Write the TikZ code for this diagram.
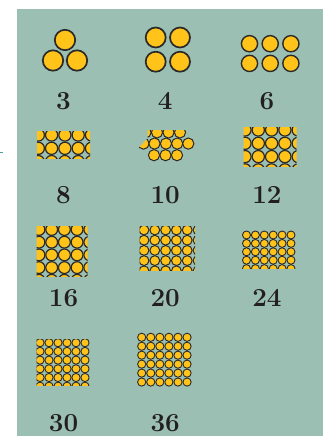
\documentclass[tikz,border=0pt]{standalone}
\usepackage{xcolor}
\usepackage{tikz}
\usetikzlibrary{positioning}

\definecolor{panelgreen}{HTML}{9BBFB2}
\definecolor{coinyellow}{HTML}{FFC31A}
\definecolor{coinedge}{HTML}{2B2A28}
\definecolor{numgray}{HTML}{231F20}
\definecolor{tickteal}{HTML}{4E9A9A}

\begin{document}
\begin{tikzpicture}[x=1pt, y=-1pt, node distance=101.7pt,
        panel/.style={fill=panelgreen},
        coin/.style={draw=coinedge, fill=coinyellow},
        num/.style={text=numgray, inner sep=0pt, font=\fontsize{26}{26}\selectfont\bfseries},
        tick/.style={draw=tickteal, line width=0.8pt}
    ]
        \useasboundingbox (0,0) rectangle (323,436);
        \fill[panel] (17,9) rectangle (323,436);
        \draw[tick] (0,152.7) -- (2.5,152.7);

        % row 1
        \draw[coin, line width=1.7pt] (65,40) circle[radius=10.2];
        \draw[coin, line width=1.7pt] (53,60.5) circle[radius=10.2];
        \draw[coin, line width=1.7pt] (77,60.5) circle[radius=10.2];
        \foreach \x in {155.7,180}
            \foreach \y in {37.5,61.7}
                \draw[coin, line width=1.7pt] (\x,\y) circle[radius=10];
        \foreach \x in {249.5,270.2,290.9}
            \foreach \y in {43.7,63.4}
                \draw[coin, line width=1.4pt] (\x,\y) circle[radius=8.1];

        % row 2
        \begin{scope}
            \clip (37,131.7) rectangle (90,158.3);
            \foreach \i in {0,...,4}
                \foreach \j in {0,...,2}
                    \draw[coin, line width=1.2pt] (38.3+13.3*\i,135+13.3*\j) circle[radius=6.1];
        \end{scope}
        \begin{scope}
            \clip (147.5,130) -- (186,130) -- (186,137) -- (196,137) -- (196,165)
                -- (130,165) -- (130,157) -- (147.5,138.5) -- cycle;
            \foreach \x in {145.5,157,168.5,180}
                \draw[coin, line width=1pt] (\x,132.4) circle[radius=5.6];
            \foreach \x in {143.5,154.5,166,177.2,188.3}
                \draw[coin, line width=1pt] (\x,143.6) circle[radius=5.6];
            \foreach \x in {154,165.5,177}
                \draw[coin, line width=1pt] (\x,155.2) circle[radius=5.6];
        \end{scope}
        \begin{scope}
            \clip (243.5,127.7) rectangle (296.7,166.7);
            \foreach \i in {0,...,4}
                \foreach \j in {0,...,3}
                    \draw[coin, line width=1.2pt] (245+13.3*\i,130+13.3*\j) circle[radius=6.1];
        \end{scope}

        % row 3
        \begin{scope}
            \clip (36.7,226.7) rectangle (87.7,276.7);
            \foreach \i in {0,...,4}
                \foreach \j in {0,...,4}
                    \draw[coin, line width=1.2pt] (39+12.7*\i,229.5+12.7*\j) circle[radius=5.9];
        \end{scope}
        \begin{scope}
            \clip (139.5,226) rectangle (195,270.7);
            \foreach \i in {0,...,5}
                \foreach \j in {0,...,4}
                    \draw[coin, line width=1pt] (144+10.8*\i,230+10.2*\j) circle[radius=4.9];
        \end{scope}
        \begin{scope}
            \clip (241.5,230.5) rectangle (296,268.3);
            \foreach \i in {0,...,5}
                \foreach \j in {0,...,4}
                    \draw[coin, line width=0.9pt] (246.5+8.9*\i,235+8.4*\j) circle[radius=4];
        \end{scope}

        % row 4
        \begin{scope}
            \clip (36.7,339.3) rectangle (89.3,385);
            \foreach \i in {0,...,5}
                \foreach \j in {0,...,5}
                    \draw[coin, line width=0.9pt] (40+9*\i,342.7+8.7*\j) circle[radius=4.1];
        \end{scope}
        \foreach \i in {0,...,5}
            \foreach \j in {0,...,5}
                \draw[coin, line width=0.9pt] (141.7+9.07*\i,337.3+8.95*\j) circle[radius=4.1];

        % numbers
        \node (n3) [num] at (63.5,100.7) {3};
        \node (n4) [num, right of=n3] {4};
        \node (n6) [num, right of=n4] {6};
        \node (n8) [num] at (63.5,195) {8};
        \node (n10) [num, right of=n8] {10};
        \node (n12) [num, right of=n10] {12};
        \node (n16) [num] at (63.5,298.3) {16};
        \node (n20) [num, right of=n16] {20};
        \node (n24) [num, right of=n20] {24};
        \node (n30) [num] at (63.5,423.3) {30};
        \node (n36) [num, right of=n30] {36};
    \end{tikzpicture}
\end{document}
